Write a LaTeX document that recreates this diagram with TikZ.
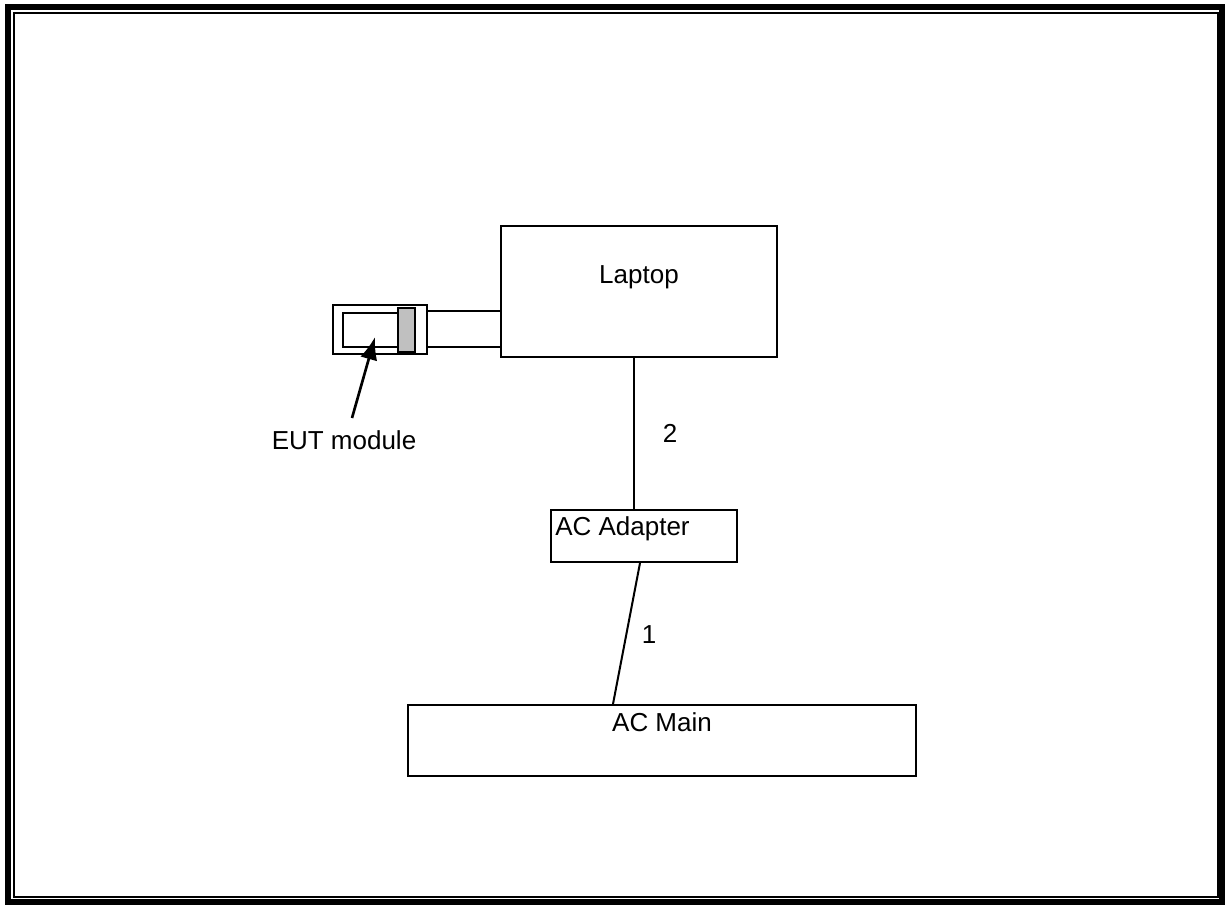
\documentclass[tikz,border=0pt]{standalone}
\usepackage{fontspec}
\setmainfont{Liberation Sans}
\usetikzlibrary{arrows.meta,calc}
\newlength\pxu
\setlength\pxu{0.75pt}
\tikzset{
  box/.style={draw=black,line width=2\pxu,fill=white,rectangle,inner sep=0pt},
  lbl/.style={font=\fontsize{19.5pt}{23pt}\selectfont,inner sep=0pt,anchor=base},
  wire/.style={draw=black,line width=2\pxu},
}
\begin{document}
\begin{tikzpicture}[x=1\pxu,y=-1\pxu]
\useasboundingbox (0,0) rectangle (1226,905);
\fill[white] (0,0) rectangle (1226,905);
% page frame
\draw[line width=6.5\pxu] (8,7) rectangle (1222,902);
\draw[line width=2\pxu] (14,13) rectangle (1218,897);
% EUT module and plug
\node[box,minimum width=77\pxu,minimum height=36\pxu] (stub) at (465.5,329) {};
\node[box,minimum width=94\pxu,minimum height=49\pxu] (module) at (380,329.5) {};
\node[box,minimum width=55\pxu,minimum height=34\pxu] (inner) at (370.5,330) {};
\node[box,fill={rgb,255:red,192;green,192;blue,192},minimum width=17\pxu,minimum height=44\pxu] (block) at (406.5,330) {};
% laptop
\node[box,minimum width=276\pxu,minimum height=131\pxu] (laptop) at (639,291.5) {};
\node[lbl] (laptoptxt) at (639,284) {Laptop};
% AC adapter
\node[box,minimum width=186\pxu,minimum height=52\pxu] (adapter) at (644,536) {};
\node[lbl,anchor=base west] (adaptertxt) at (555,535) {AC Adapter};
% AC main
\node[box,minimum width=508\pxu,minimum height=71\pxu] (acmain) at (662,740.5) {};
\node[lbl] (acmaintxt) at (662,731) {AC Main};
% cables
\draw[wire] ([xshift=-5\pxu]laptop.south) -- ([xshift=-10\pxu]adapter.north);
\draw[wire] ([xshift=-4\pxu]adapter.south) -- ([xshift=-49\pxu]acmain.north);
\node[lbl] (two) at (670,442) {2};
\node[lbl] (one) at (649,643) {1};
% EUT label and arrow
\node[lbl] (euttxt) at (344,449) {EUT module};
\coordinate (tail) at (352,418);
\coordinate (tip) at (375,337);
\draw[line width=2pt,-{Latex[length=17pt,width=13pt]}] (tail) -- (tip);
\end{tikzpicture}
\end{document}
